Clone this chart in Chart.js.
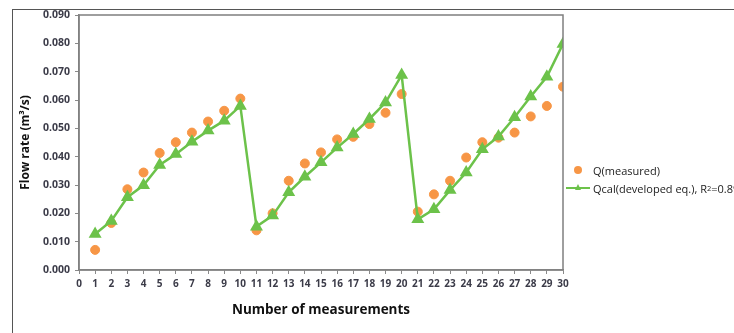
<!DOCTYPE html>
<html lang="en">
  <head>
    <meta charset="UTF-8" />
    <title>Flow rate vs number of measurements</title>
    <script src="https://cdn.jsdelivr.net/npm/chart.js"></script>
    <style>
      body {
        margin: 0;
        background: white;
        font-family: "Open Sans", Arial, sans-serif;
      }
      .wrap {
        position: relative;
        width: 734px;
        height: 333px;
        overflow: hidden;
      }
      .frame {
        position: absolute;
        left: 12px;
        top: 9px;
        width: 800px;
        height: 400px;
        border-left: 1.5px solid #555;
        border-top: 1.5px solid #555;
        pointer-events: none;
      }
      .legend {
        position: absolute;
        left: 566px;
        top: 161px;
        font-size: 11px;
        color: #222;
        white-space: nowrap;
      }
      .legend-item {
        display: flex;
        align-items: center;
        height: 18px;
      }
      .sym {
        position: relative;
        width: 24px;
        height: 10px;
        margin-right: 3px;
      }
      .dot {
        position: absolute;
        left: 8px;
        top: 1px;
        width: 8px;
        height: 8px;
        border-radius: 50%;
        background: #f79646;
      }
      .ln {
        position: absolute;
        left: 0;
        top: 4px;
        width: 24px;
        height: 2px;
        background: #6cc24a;
      }
      .tri {
        position: absolute;
        left: 9px;
        top: 1px;
        width: 0;
        height: 0;
        border-left: 3px solid transparent;
        border-right: 3px solid transparent;
        border-bottom: 6px solid #6cc24a;
      }
    </style>
  </head>
  <body>
    <div class="wrap">
      <canvas id="chart" width="734" height="333"></canvas>
      <div class="frame"></div>
      <div class="legend">
        <div class="legend-item"><div class="sym"><div class="dot"></div></div>Q(measured)</div>
        <div class="legend-item"><div class="sym"><div class="ln"></div><div class="tri"></div></div>Qcal(developed eq.), R<sup style="font-size:7.5px">2</sup>=0.89</div>
      </div>
    </div>

    <script>
      const measurements = [
        1, 2, 3, 4, 5, 6, 7, 8, 9, 10, 11, 12, 13, 14, 15,
        16, 17, 18, 19, 20, 21, 22, 23, 24, 25, 26, 27, 28, 29, 30,
      ];
      const qMeasured = [
        0.0071, 0.0166, 0.0285, 0.0344, 0.0413, 0.0451, 0.0485, 0.0524, 0.0562, 0.0605,
        0.0140, 0.0200, 0.0315, 0.0376, 0.0415, 0.0461, 0.0470, 0.0515, 0.0555, 0.0621,
        0.0206, 0.0267, 0.0315, 0.0397, 0.0451, 0.0467, 0.0485, 0.0542, 0.0579, 0.0647,
      ];
      const qCalculated = [
        0.0127, 0.0173, 0.0257, 0.0299, 0.0371, 0.0409, 0.0453, 0.0492, 0.0527, 0.0579,
        0.0153, 0.0192, 0.0274, 0.0329, 0.0380, 0.0432, 0.0480, 0.0533, 0.0591, 0.0688,
        0.0179, 0.0214, 0.0282, 0.0344, 0.0426, 0.0471, 0.0539, 0.0612, 0.0682, 0.0798,
      ];

      const tickColor = "#3b3b48";

      // box around the plot area
      const plotBox = {
        id: "plotBox",
        afterDraw(chart) {
          const a = chart.chartArea;
          const ctx = chart.ctx;
          ctx.save();
          ctx.strokeStyle = "#7f7f7f";
          ctx.lineWidth = 1.5;
          ctx.strokeRect(a.left, a.top, a.right - a.left, a.bottom - a.top);
          ctx.restore();
        },
      };

      new Chart(document.getElementById("chart"), {
        type: "scatter",
        data: {
          datasets: [
            {
              label: "Q(measured)",
              data: measurements.map((m, i) => ({ x: m, y: qMeasured[i] })),
              backgroundColor: "#f79646",
              borderColor: "#f79646",
              pointRadius: 4.5,
              pointStyle: "circle",
              showLine: false,
              order: 2,
            },
            {
              label: "Qcal(developed eq.), R²=0.89",
              data: measurements.map((m, i) => ({ x: m, y: qCalculated[i] })),
              backgroundColor: "#6cc24a",
              borderColor: "#6cc24a",
              borderWidth: 2.5,
              pointRadius: 5,
              pointStyle: "triangle",
              showLine: true,
              order: 1,
            },
          ],
        },
        options: {
          responsive: false,
          animation: false,
          layout: { padding: { left: 14, right: 171, top: 15, bottom: 11 } },
          plugins: { legend: { display: false }, tooltip: { enabled: false } },
          scales: {
            x: {
              type: "linear",
              min: 0,
              max: 30,
              afterFit(scale) {
                scale.height = 52;
              },
              ticks: {
                stepSize: 1,
                autoSkip: false,
                maxRotation: 0,
                padding: 4,
                color: tickColor,
                font: { family: "Open Sans", size: 10, weight: "bold" },
              },
              grid: { drawOnChartArea: false, tickLength: 4, color: "#8a8a8a" },
              border: { color: "#8a8a8a", width: 1.5 },
              title: {
                display: true,
                text: "Number of measurements",
                color: "#111",
                padding: { top: 8 },
                font: { family: "Open Sans", size: 13.5, weight: "bold" },
              },
            },
            y: {
              min: 0,
              max: 0.09,
              afterFit(scale) {
                scale.width = 65;
              },
              ticks: {
                stepSize: 0.01,
                padding: 5,
                color: tickColor,
                font: { family: "Open Sans", size: 10.5, weight: "bold" },
                callback: (v) => v.toFixed(3),
              },
              grid: { drawOnChartArea: false, tickLength: 4, color: "#8a8a8a" },
              border: { color: "#8a8a8a", width: 1.5 },
              title: {
                display: true,
                text: "Flow rate (m³/s)",
                color: "#111",
                padding: { bottom: 2 },
                font: { family: "Open Sans", size: 12, weight: "bold" },
              },
            },
          },
        },
        plugins: [plotBox],
      });
    </script>
  </body>
</html>
